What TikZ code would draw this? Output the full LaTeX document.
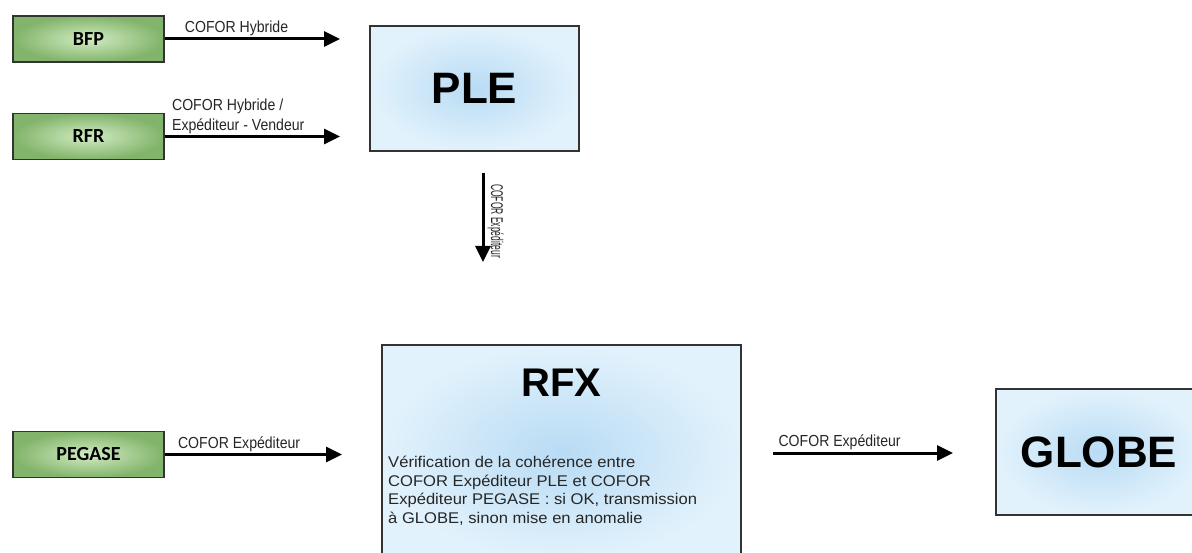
\documentclass[tikz,border=0pt]{standalone}
\usepackage{fontspec}
\setmainfont{Liberation Sans}
\newfontfamily\srcfont{Carlito}
\usetikzlibrary{arrows.meta,positioning}

\definecolor{srcdark}{HTML}{82B46B}
\definecolor{srclight}{HTML}{D2ECC3}
\definecolor{sysedge}{HTML}{E2F2FC}
\definecolor{syscore}{HTML}{B8DBF4}

\begin{document}
\begin{tikzpicture}[x=1pt,y=-1pt,
  src/.style={draw=black!80,line width=1.2pt,inner color=srclight,outer color=srcdark,
    minimum width=151pt,minimum height=46pt,inner sep=0pt,
    font=\srcfont\bfseries\fontsize{20}{24}\selectfont},
  sys/.style={draw=black!80,line width=1.2pt,inner color=syscore,outer color=sysedge,
    inner sep=0pt,font=\bfseries\fontsize{44}{50}\selectfont},
  flow/.style={line width=3pt,-{Triangle[length=16pt,width=15pt]}},
  lbl/.style={font=\fontsize{16}{19.5}\selectfont,text=black!85,inner sep=1.5pt,
    xscale=0.88,align=left}]
   \useasboundingbox (0,0) rectangle (1192,553);
   \fill[white] (0,0) rectangle (1192,553);

   % sources
   \node[src] (bfp) at (88.5,39) {BFP};
   \node[src] (rfr) at (88.5,136.5) {RFR};
   \node[src] (pegase) at (88.5,454.5) {PEGASE};

   % systems
   \node[sys,minimum width=209pt,minimum height=125pt] (ple) at (474.5,88.5) {PLE};
   \node[sys,minimum width=359pt,minimum height=215pt] (rfx) at (561.5,452.5) {};
   \node[font=\bfseries\fontsize{40}{46}\selectfont,inner sep=0pt] (rfxtitle) at (561.5,383) {RFX};
   \node[font=\fontsize{15.5}{18.5}\selectfont,text=black!85,align=left,inner sep=0pt,
     xscale=1.07,anchor=north west] (rfxnote) at (388,456)
     {V\'erification de la coh\'erence entre\\
      COFOR Exp\'editeur PLE et COFOR\\
      Exp\'editeur PEGASE : si OK, transmission\\
      \`a GLOBE, sinon mise en anomalie};
   \node[sys,minimum width=206pt,minimum height=126pt] (globe) at (1099,452) {GLOBE};

   \coordinate (bfpend) at (340,39);
   \coordinate (rfrend) at (340,136.5);
   \coordinate (pegend) at (342,454.5);
   \coordinate (downtop) at (483,173);
   \coordinate (downend) at (483,262);
   \coordinate (outstart) at (773,453);
   \coordinate (outend) at (953,453);

    \path[flow]
    (bfp) edge node[lbl,above,pos=0.41] {COFOR Hybride} (bfpend)
    (rfr) edge node[lbl,above,pos=0.42] {COFOR Hybride /\\ Exp\'editeur - Vendeur} (rfrend)
    (pegase) edge node[lbl,above,pos=0.42] {COFOR Exp\'editeur} (pegend)
    (downtop) edge node[font=\fontsize{17}{20}\selectfont,text=black!85,inner sep=3pt,
        rotate=-90,xscale=0.5,anchor=south,pos=0.54] {COFOR Exp\'editeur} (downend)
    (outstart) edge node[lbl,above,pos=0.37] {COFOR Exp\'editeur} (outend);
\end{tikzpicture}
\end{document}
